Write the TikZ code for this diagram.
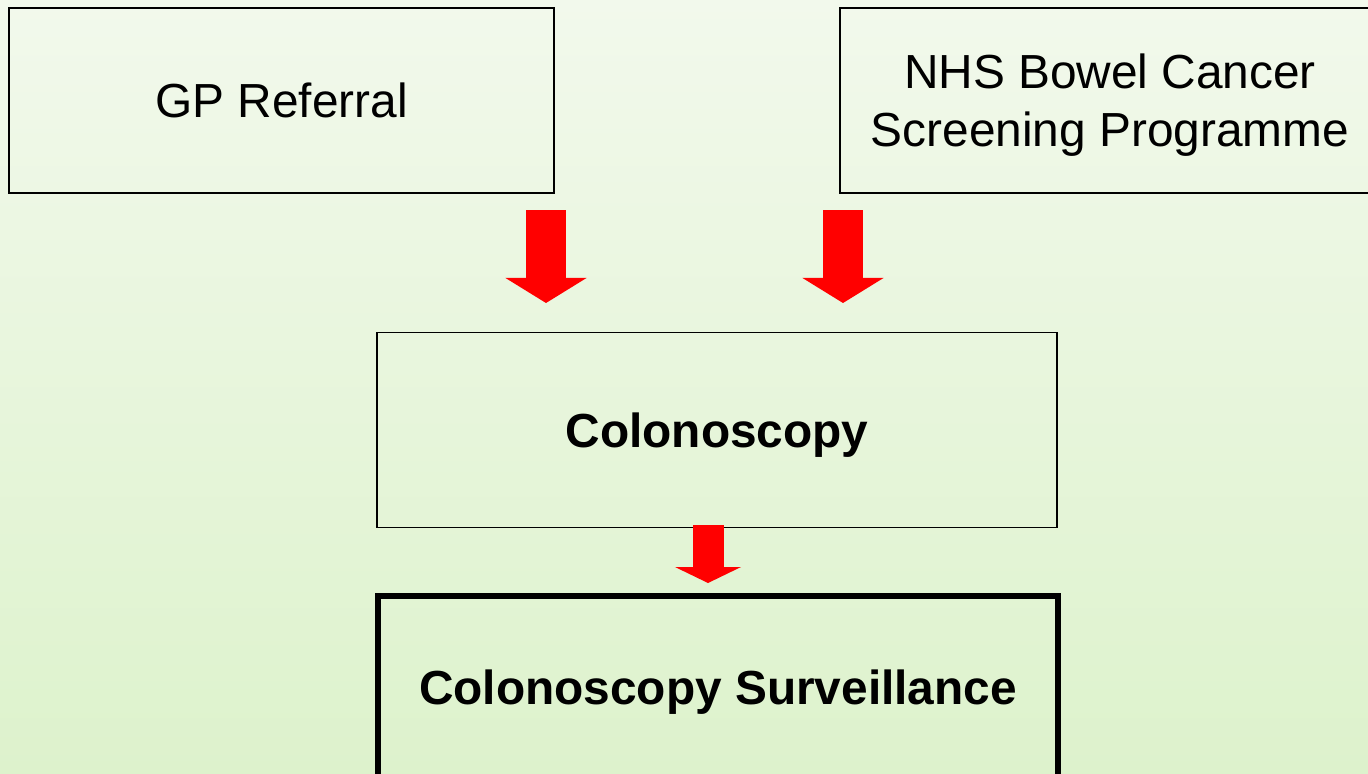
\documentclass[tikz,border=0pt]{standalone}
\usepackage{fontspec}
\setmainfont{Liberation Sans}
\usetikzlibrary{arrows.meta}
\definecolor{bgtop}{RGB}{242,249,236}
\definecolor{bgbot}{RGB}{221,242,204}
\begin{document}
\begin{tikzpicture}[x=0.01cm,y=-0.01cm,
		box/.style={draw,line width=0.5pt,inner sep=0pt,text depth=0pt,align=center,font=\fontsize{13.6}{16.5}\selectfont},
		bigarrow/.style={red,line width=0.4cm,-{Triangle[length=0.25cm,width=0.81cm,line width=0pt 0 0]}},
		smallarrow/.style={red,line width=0.31cm,-{Triangle[length=0.16cm,width=0.66cm,line width=0pt 0 0]}}]
		\useasboundingbox (0,0) rectangle (1368,773);
		\fill[top color=bgtop,bottom color=bgbot] (0,0) rectangle (1368,773);
		\node[box,minimum width=5.45cm,minimum height=1.85cm] (gp) at (281.5,100.5) {GP Referral};
		\node[box,minimum width=5.4cm,minimum height=1.85cm] (nhs) at (1110,100.5) {NHS Bowel Cancer\\Screening Programme};
		\node[box,minimum width=6.8cm,minimum height=1.95cm,font=\fontsize{13.6}{16.5}\selectfont\bfseries] (col) at (717,430) {Colonoscopy};
		\node[box,line width=1.6pt,minimum width=6.79cm,minimum height=1.82cm,font=\fontsize{13.6}{16.5}\selectfont\bfseries] (surv) at (718,687) {Colonoscopy Surveillance};
		\coordinate (gpa) at (546,210);
		\coordinate (gpb) at (546,303);
		\coordinate (nhsa) at (843,210);
		\coordinate (nhsb) at (843,303);
		\coordinate (cola) at (708,525);
		\coordinate (colb) at (708,583);
		\draw[bigarrow](gpa)--(gpb);
		\draw[bigarrow](nhsa)--(nhsb);
		\draw[smallarrow](cola)--(colb);
	\end{tikzpicture}
\end{document}
